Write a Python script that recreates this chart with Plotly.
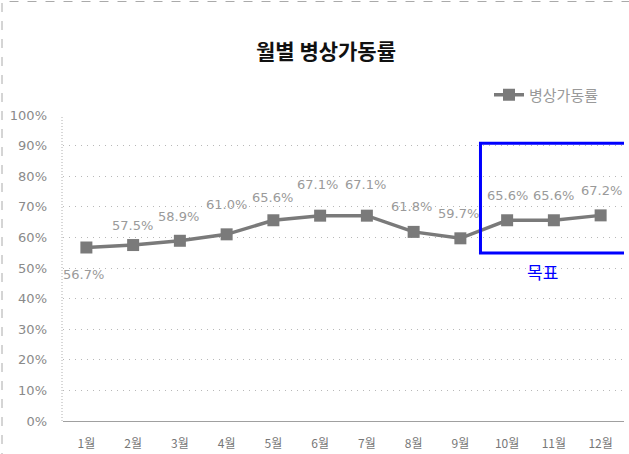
import plotly.graph_objects as go

months = ["1월", "2월", "3월", "4월", "5월", "6월", "7월", "8월", "9월", "10월", "11월", "12월"]
rates = [56.7, 57.5, 58.9, 61.0, 65.6, 67.1, 67.1, 61.8, 59.7, 65.6, 65.6, 67.2]
series_name = "병상가동률"
title_text = "월별 병상가동률"
target_text = "목표"

# pixel offsets of the data labels relative to their points (style only)
label_yshift = [-27, 20, 24, 30, 23, 31, 31, 25, 25, 25, 25, 25]
label_xshift = [-3, -1, -1, 0, -1, -3, -1, -2, -2, 0, 0, 1]

FONT = "Noto Sans CJK KR"
LABEL_FONT = "DejaVu Sans"
GRAY = "#7a7a7a"

fig = go.Figure()
fig.add_trace(go.Scatter(
    x=months, y=rates, name=series_name,
    mode="lines+markers",
    line=dict(color=GRAY, width=3.5),
    marker=dict(symbol="square", size=12, color=GRAY),
    cliponaxis=False,
))

L, R, T, B = 63, 5, 115, 33
W, H = 629, 454
pw, ph = W - L - R, H - T - B

def px_x(px):
    return (px - L) / pw

def px_y(py):
    return (H - B - py) / ph

shapes = [
    dict(type="rect", xref="paper", yref="paper",
         x0=px_x(2), x1=px_x(640), y0=px_y(470), y1=px_y(1.5),
         line=dict(color="#aaaaaa", width=1, dash="dash"), layer="below"),
    dict(type="line", xref="paper", yref="paper", x0=px_x(62), x1=px_x(62), y0=0, y1=1,
         line=dict(color="#b0b0b0", width=1, dash="1px,2px")),
    dict(type="rect", xref="x", yref="y", x0=8.43, x1=11.6, y0=54.9, y1=90.8,
         line=dict(color="#0000ff", width=3)),
]

annotations = [
    dict(text=target_text, x=9.75, y=49, xref="x", yref="y", showarrow=False,
         font=dict(family=FONT, size=17, color="#0000ff")),
]
for m, v, ys, xs in zip(months, rates, label_yshift, label_xshift):
    annotations.append(dict(
        text=f"{v:.1f}%", x=m, y=v, xref="x", yref="y", showarrow=False,
        yshift=ys, xshift=xs,
        font=dict(family=LABEL_FONT, size=13, color="#9a9a9a"),
    ))

fig.update_layout(
    width=W, height=H,
    margin=dict(l=L, r=R, t=T, b=B, autoexpand=False),
    paper_bgcolor="white", plot_bgcolor="white",
    title=dict(text=f"<b>{title_text}</b>", x=326 / W, xanchor="center",
               y=1 - 52 / H, yanchor="middle",
               font=dict(family=FONT, size=21, color="#111111")),
    showlegend=True,
    legend=dict(x=px_x(489), y=px_y(95), xanchor="left", yanchor="middle",
                font=dict(family=FONT, size=15, color="#999999"),
                bgcolor="rgba(0,0,0,0)", itemwidth=30),
    font=dict(family=FONT),
    shapes=shapes,
    annotations=annotations,
)
fig.update_xaxes(
    type="category", range=[-0.5, 11.5], automargin=False,
    showgrid=False, showline=True,
    linecolor="#a0a0a0", linewidth=1,
    tickfont=dict(family=FONT, size=12, color="#777777"),
    ticks="", ticklabelstandoff=12,
)
fig.update_yaxes(
    range=[0, 100], dtick=10, ticksuffix="%", automargin=False,
    showgrid=True, gridcolor="#b8b8b8", griddash="1px,5px", gridwidth=1,
    zeroline=False, showline=False,
    tickfont=dict(family=LABEL_FONT, size=13, color="#8a8a8a"),
    ticks="", ticklabelstandoff=15,
)

fig.write_html(
    "out.html",
    config={"displayModeBar": False},
    post_script="document.body.style.margin='0';document.body.style.overflow='hidden';",
)
